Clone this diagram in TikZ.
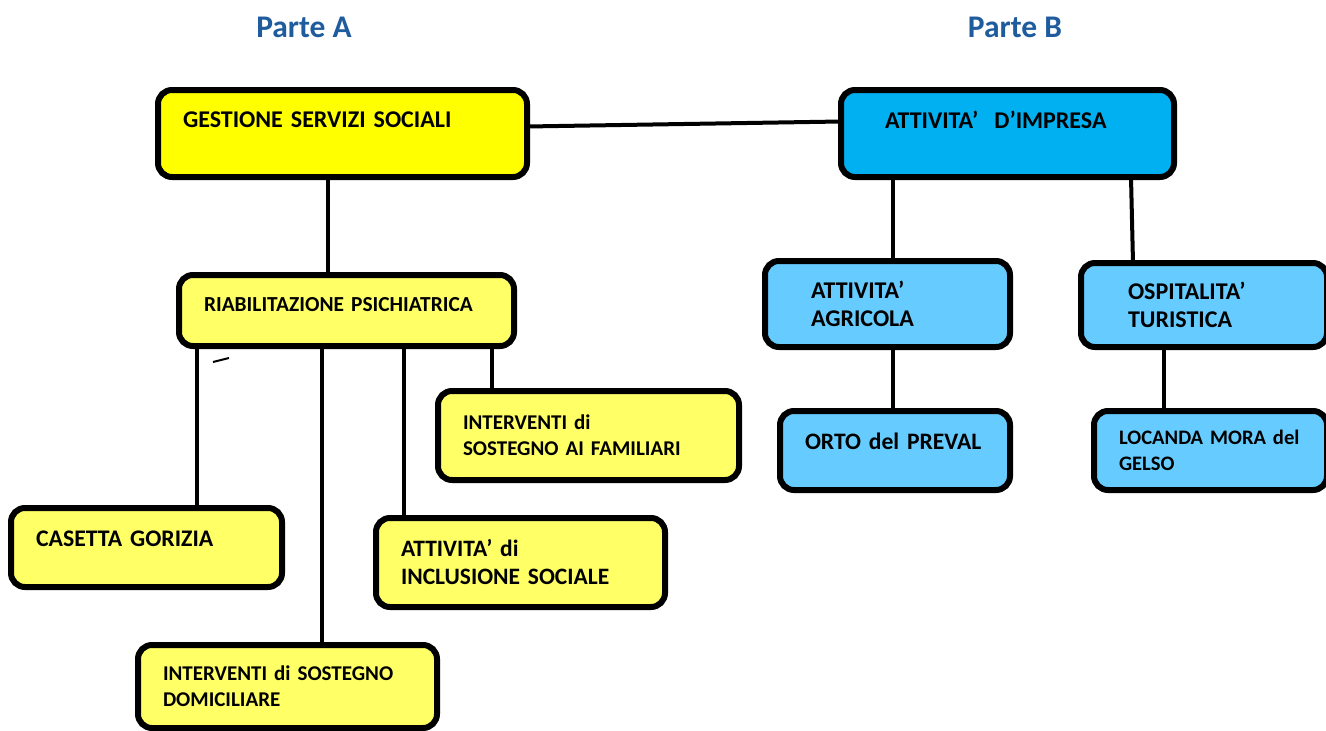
\documentclass[tikz,border=0pt]{standalone}
\usepackage{fontspec}
\setmainfont{Carlito}
\definecolor{giallo}{HTML}{FFFF00}
\definecolor{giallochiaro}{HTML}{FFFF66}
\definecolor{azzurro}{HTML}{00B0F0}
\definecolor{azzurrochiaro}{HTML}{66CCFF}
\definecolor{blutitolo}{HTML}{1F5C9E}
\tikzset{corpo/.style 2 args={font=\bfseries\fontsize{#1}{#2}\selectfont}}

\begin{document}
\begin{tikzpicture}[x=1pt,y=-1pt]
  \tikzstyle{box}=[draw=black,line width=6pt,rounded corners=14pt,anchor=north west,align=left,inner xsep=25pt,inner ysep=0pt,outer sep=0pt]
  \tikzstyle{gialla}=[box,fill=giallo]
  \tikzstyle{giallina}=[box,fill=giallochiaro]
  \tikzstyle{azzurra}=[box,fill=azzurro]
  \tikzstyle{azzurrina}=[box,fill=azzurrochiaro]
  \tikzstyle{titolo}=[text=blutitolo,corpo={31.5}{36},anchor=base]
  \tikzstyle{linea}=[line width=4pt]

  \useasboundingbox (0,0) rectangle (1326,731);

  \node [titolo] (pa) at (304,37) {Parte A};
  \node [titolo] (pb) at (1015,37) {Parte B};

  \node [gialla] (gss) at (158,90) [text width=319pt,minimum height=87pt,text depth=27pt,corpo={24}{29}] {GESTIONE SERVIZI SOCIALI};
  \node [azzurra] (imp) at (841,90) [inner xsep=44pt,text width=245pt,minimum height=87pt,text depth=27pt,corpo={24}{29}] {ATTIVITA’\ \ D’IMPRESA};

  \node [giallina] (riab) at (179,275) [text width=285pt,minimum height=71pt,text depth=13pt,corpo={21.4}{26}] {RIABILITAZIONE PSICHIATRICA};
  \node [giallina] (fam) at (438,391) [text width=251pt,minimum height=89pt,corpo={21}{26}] {INTERVENTI di\\SOSTEGNO AI FAMILIARI};
  \node [giallina] (cas) at (11,508) [text width=221pt,minimum height=79pt,text depth=18pt,corpo={23.8}{28}] {CASETTA GORIZIA};
  \node [giallina] (inc) at (376,518) [text width=239pt,minimum height=89pt,corpo={23.5}{28}] {ATTIVITA’ di\\INCLUSIONE SOCIALE};
  \node [giallina] (dom) at (138,645) [text width=249pt,minimum height=83pt,corpo={21}{26}] {INTERVENTI di SOSTEGNO\\DOMICILIARE};

  \node [azzurrina] (agr) at (765,261) [inner xsep=46pt,text width=153pt,minimum height=86pt,corpo={24}{28}] {ATTIVITA’\\AGRICOLA};
  \node [azzurrina] (osp) at (1081,263) [inner xsep=47pt,text width=152pt,minimum height=84pt,corpo={24}{28}] {OSPITALITA’\\TURISTICA};
  \node [azzurrina] (ort) at (780,411) [text width=180pt,minimum height=79pt,text depth=18pt,corpo={23.6}{29}] {ORTO del PREVAL};
  \node [azzurrina] (loc) at (1094,411) [text width=183pt,minimum height=79pt,corpo={20.6}{26}] {LOCANDA MORA del\\GELSO};

  \draw [linea] ([yshift=7pt]gss.east) -- ([yshift=12pt]imp.west);
  \draw [linea] ([xshift=170pt]gss.south west) -- ([xshift=149pt]riab.north west);
  \draw [linea] ([xshift=18pt]riab.south west) -- ([xshift=186pt]cas.north west);
  \draw [linea] ([xshift=143pt]riab.south west) -- ([xshift=184pt]dom.north west);
  \draw [linea] ([xshift=225pt]riab.south west) -- ([xshift=28pt]inc.north west);
  \draw [linea] ([xshift=313pt]riab.south west) -- ([xshift=54pt]fam.north west);
  \draw [linea] ([xshift=52pt]imp.south west) -- ([xshift=128pt]agr.north west);
  \draw [linea] ([xshift=290pt]imp.south west) -- ([xshift=52pt]osp.north west);
  \draw [linea] ([xshift=128pt]agr.south west) -- ([xshift=113pt]ort.north west);
  \draw [linea] ([xshift=83pt]osp.south west) -- ([xshift=70pt]loc.north west);

  \draw [line width=2pt] ([xshift=34pt,yshift=-16pt]riab.south west) -- ([xshift=50pt,yshift=-12pt]riab.south west);
\end{tikzpicture}
\end{document}
